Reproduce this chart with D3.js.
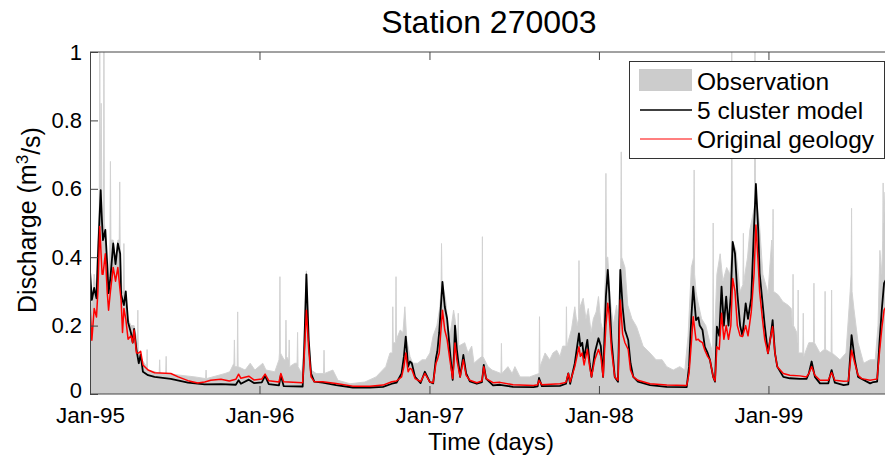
<!DOCTYPE html>
<html><head><meta charset="utf-8">
<script src="https://cdn.jsdelivr.net/npm/d3@7"></script>
<style>
html,body{margin:0;padding:0;background:#fff;}
svg{display:block;font-family:"Liberation Sans",Arial,sans-serif;}
</style></head>
<body><svg id="chart" width="885" height="459"></svg>
<script>
// ---- data: [days since 1 Jan 1995, discharge m3/s] ----
const startDate = "1995-01-01";
const observation = [[0,0.30],[4,0.25],[9,0.35],[13,0.30],[17,0.45],[20,0.55],[21,1.05],[22,0.6],[24,0.85],[26,0.5],[28,0.45],[29,0.5],[30,1.05],[31,0.5],[34,0.45],[39,0.32],[43,0.45],[44,0.68],[45,0.45],[50,0.45],[56,0.38],[60,0.45],[63,0.45],[64,0.62],[65,0.42],[69,0.3],[72,0.3],[73,0.44],[74,0.3],[82,0.22],[88,0.2],[95,0.2],[102,0.15],[103,0.245],[104,0.13],[112,0.1],[122,0.08],[123,0.13],[124,0.07],[140,0.065],[149,0.06],[150,0.1],[151,0.06],[163,0.06],[164,0.11],[165,0.06],[194,0.055],[226,0.05],[249,0.045],[250,0.07],[251,0.045],[291,0.06],[301,0.065],[310,0.09],[311,0.158],[312,0.08],[317,0.08],[318,0.24],[319,0.08],[334,0.07],[345,0.09],[355,0.07],[372,0.09],[379,0.07],[398,0.065],[407,0.1],[408,0.12],[409,0.343],[410,0.12],[418,0.1],[421,0.1],[422,0.216],[423,0.11],[428,0.1],[429,0.158],[430,0.08],[441,0.09],[446,0.09],[447,0.18],[448,0.08],[456,0.06],[461,0.15],[466,0.36],[471,0.16],[476,0.07],[487,0.06],[503,0.06],[504,0.128],[505,0.06],[523,0.07],[534,0.04],[560,0.03],[592,0.035],[616,0.05],[637,0.08],[646,0.12],[651,0.12],[652,0.255],[653,0.15],[658,0.15],[659,0.343],[660,0.16],[668,0.187],[674,0.18],[678,0.255],[682,0.16],[689,0.11],[695,0.09],[706,0.09],[715,0.1],[723,0.1],[732,0.12],[739,0.17],[747,0.2],[753,0.25],[756,0.3],[757,0.44],[758,0.33],[766,0.275],[771,0.2],[775,0.17],[783,0.245],[786,0.22],[792,0.15],[793,0.236],[794,0.14],[807,0.15],[814,0.12],[822,0.14],[827,0.09],[835,0.1],[844,0.11],[845,0.46],[846,0.11],[857,0.08],[866,0.07],[885,0.06],[886,0.148],[887,0.06],[900,0.08],[909,0.06],[915,0.08],[926,0.05],[947,0.05],[967,0.06],[968,0.226],[969,0.08],[980,0.12],[990,0.1],[997,0.12],[1005,0.128],[1012,0.11],[1018,0.14],[1025,0.14],[1026,0.255],[1027,0.14],[1037,0.19],[1044,0.255],[1049,0.2],[1052,0.22],[1053,0.39],[1054,0.25],[1062,0.28],[1068,0.22],[1073,0.25],[1079,0.18],[1084,0.22],[1090,0.24],[1095,0.285],[1100,0.21],[1105,0.18],[1110,0.35],[1111,0.645],[1112,0.4],[1115,0.4],[1120,0.28],[1127,0.2],[1134,0.26],[1139,0.2],[1143,0.4],[1144,0.708],[1145,0.4],[1152,0.37],[1158,0.26],[1167,0.22],[1177,0.197],[1191,0.14],[1206,0.12],[1219,0.1],[1232,0.1],[1242,0.08],[1256,0.07],[1270,0.08],[1281,0.07],[1288,0.17],[1295,0.37],[1300,0.4],[1301,0.655],[1302,0.35],[1305,0.3],[1309,0.27],[1317,0.22],[1326,0.2],[1335,0.15],[1341,0.12],[1342,0.5],[1343,0.1],[1350,0.35],[1357,0.41],[1363,0.33],[1371,0.37],[1378,0.35],[1381,0.4],[1382,1.05],[1383,0.45],[1391,0.42],[1400,0.3],[1406,0.32],[1407,0.47],[1408,0.33],[1416,0.4],[1421,0.48],[1427,0.52],[1431,0.55],[1432,1.05],[1433,0.6],[1442,0.49],[1449,0.35],[1455,0.32],[1460,0.294],[1468,0.45],[1470,0.4],[1471,0.54],[1472,0.3],[1482,0.29],[1492,0.27],[1503,0.26],[1510,0.25],[1513,0.2],[1514,0.35],[1515,0.2],[1522,0.18],[1524,0.15],[1525,0.304],[1526,0.12],[1535,0.12],[1536,0.236],[1537,0.11],[1548,0.15],[1558,0.15],[1559,0.324],[1560,0.15],[1572,0.12],[1579,0.128],[1582,0.13],[1583,0.3],[1584,0.13],[1596,0.12],[1597,0.304],[1598,0.12],[1615,0.1],[1628,0.12],[1637,0.3],[1639,0.35],[1640,0.543],[1641,0.3],[1645,0.25],[1654,0.15],[1666,0.09],[1680,0.1],[1691,0.1],[1697,0.2],[1701,0.42],[1705,0.35],[1707,0.45],[1708,0.617],[1709,0.5],[1712,0.59],[1718,0.5]];
const clusterModel = [[0,0.36],[4,0.275],[9,0.31],[14,0.28],[17,0.40],[23,0.596],[26,0.50],[28,0.45],[33,0.48],[37,0.38],[40,0.295],[44,0.34],[50,0.44],[55,0.38],[60,0.44],[65,0.41],[67,0.29],[73,0.26],[77,0.30],[82,0.21],[88,0.18],[92,0.15],[95,0.19],[100,0.13],[105,0.09],[109,0.115],[114,0.065],[125,0.055],[139,0.05],[174,0.044],[211,0.033],[247,0.028],[282,0.029],[314,0.027],[320,0.04],[325,0.03],[342,0.042],[353,0.032],[370,0.034],[377,0.053],[385,0.029],[407,0.025],[411,0.055],[417,0.023],[458,0.022],[461,0.12],[466,0.35],[471,0.158],[476,0.06],[483,0.036],[501,0.033],[530,0.026],[566,0.019],[603,0.019],[631,0.021],[650,0.03],[660,0.033],[671,0.06],[676,0.11],[680,0.168],[685,0.08],[689,0.095],[693,0.09],[700,0.05],[712,0.032],[721,0.065],[732,0.035],[739,0.031],[745,0.105],[748,0.125],[752,0.18],[759,0.328],[764,0.255],[769,0.22],[775,0.128],[781,0.041],[784,0.12],[786,0.2],[790,0.13],[797,0.05],[804,0.114],[810,0.06],[818,0.037],[833,0.03],[844,0.035],[848,0.085],[853,0.045],[868,0.025],[883,0.027],[911,0.021],[955,0.02],[964,0.022],[967,0.047],[973,0.023],[1012,0.024],[1025,0.03],[1030,0.06],[1034,0.03],[1044,0.09],[1053,0.177],[1056,0.14],[1060,0.15],[1064,0.105],[1071,0.158],[1076,0.09],[1080,0.05],[1087,0.12],[1095,0.163],[1100,0.14],[1105,0.05],[1111,0.285],[1115,0.363],[1118,0.3],[1123,0.158],[1130,0.05],[1137,0.036],[1142,0.363],[1147,0.255],[1152,0.187],[1159,0.158],[1164,0.09],[1170,0.05],[1180,0.036],[1206,0.026],[1242,0.021],[1285,0.02],[1290,0.08],[1295,0.226],[1299,0.314],[1305,0.216],[1310,0.224],[1313,0.2],[1319,0.187],[1324,0.138],[1330,0.12],[1335,0.1],[1342,0.05],[1346,0.036],[1350,0.197],[1355,0.17],[1360,0.314],[1365,0.2],[1370,0.285],[1375,0.2],[1380,0.29],[1384,0.445],[1389,0.41],[1394,0.294],[1400,0.2],[1405,0.17],[1412,0.265],[1417,0.22],[1424,0.28],[1430,0.489],[1434,0.614],[1439,0.48],[1442,0.353],[1448,0.27],[1453,0.2],[1460,0.119],[1466,0.17],[1470,0.216],[1475,0.12],[1480,0.08],[1493,0.05],[1507,0.046],[1529,0.044],[1543,0.044],[1548,0.06],[1554,0.095],[1561,0.05],[1572,0.031],[1590,0.031],[1593,0.05],[1597,0.07],[1604,0.033],[1623,0.026],[1633,0.028],[1637,0.11],[1640,0.172],[1647,0.1],[1654,0.05],[1662,0.044],[1680,0.031],[1687,0.035],[1695,0.036],[1700,0.148],[1705,0.245],[1710,0.324],[1716,0.34]];
const originalGeology = [[0,0.26],[4,0.157],[9,0.25],[14,0.225],[17,0.30],[21,0.49],[26,0.35],[28,0.35],[33,0.41],[37,0.30],[40,0.245],[44,0.30],[50,0.37],[55,0.33],[60,0.37],[65,0.30],[67,0.275],[70,0.18],[73,0.25],[77,0.22],[82,0.16],[88,0.17],[92,0.15],[95,0.187],[100,0.12],[105,0.12],[109,0.125],[114,0.085],[125,0.07],[139,0.062],[174,0.06],[190,0.05],[211,0.039],[232,0.032],[247,0.035],[260,0.04],[282,0.043],[300,0.038],[314,0.043],[320,0.058],[325,0.046],[342,0.052],[353,0.041],[370,0.044],[377,0.058],[385,0.039],[407,0.035],[411,0.06],[417,0.036],[458,0.033],[461,0.1],[466,0.245],[471,0.13],[476,0.05],[483,0.036],[501,0.036],[530,0.031],[566,0.023],[603,0.023],[631,0.026],[650,0.036],[660,0.038],[671,0.05],[676,0.08],[680,0.12],[685,0.065],[689,0.075],[693,0.072],[700,0.045],[712,0.036],[721,0.06],[732,0.035],[739,0.033],[745,0.09],[748,0.1],[752,0.12],[759,0.245],[764,0.187],[769,0.16],[775,0.1],[781,0.045],[784,0.1],[786,0.149],[790,0.1],[797,0.05],[804,0.1],[810,0.055],[818,0.04],[833,0.033],[844,0.038],[848,0.08],[853,0.045],[868,0.033],[883,0.034],[911,0.027],[955,0.025],[964,0.027],[967,0.04],[973,0.027],[1012,0.03],[1025,0.034],[1030,0.06],[1034,0.035],[1044,0.08],[1053,0.138],[1056,0.11],[1060,0.12],[1064,0.085],[1071,0.13],[1076,0.08],[1080,0.05],[1087,0.1],[1095,0.13],[1100,0.11],[1105,0.05],[1111,0.2],[1115,0.265],[1118,0.23],[1123,0.13],[1130,0.05],[1137,0.04],[1142,0.275],[1147,0.175],[1152,0.15],[1159,0.13],[1164,0.07],[1170,0.05],[1180,0.04],[1206,0.03],[1242,0.026],[1285,0.025],[1290,0.06],[1295,0.15],[1299,0.226],[1305,0.158],[1310,0.16],[1313,0.155],[1319,0.15],[1324,0.128],[1330,0.11],[1335,0.1],[1342,0.05],[1346,0.038],[1350,0.138],[1355,0.13],[1360,0.236],[1365,0.16],[1370,0.2],[1375,0.16],[1380,0.2],[1384,0.338],[1389,0.3],[1394,0.2],[1400,0.17],[1405,0.168],[1412,0.2],[1417,0.17],[1424,0.24],[1430,0.35],[1434,0.494],[1439,0.38],[1442,0.3],[1448,0.22],[1453,0.16],[1460,0.119],[1466,0.17],[1470,0.197],[1475,0.12],[1480,0.08],[1493,0.06],[1507,0.055],[1529,0.053],[1543,0.05],[1548,0.06],[1554,0.08],[1561,0.055],[1572,0.04],[1590,0.04],[1593,0.05],[1597,0.063],[1604,0.04],[1623,0.037],[1633,0.038],[1637,0.09],[1640,0.128],[1647,0.09],[1654,0.055],[1662,0.045],[1680,0.04],[1687,0.042],[1695,0.044],[1700,0.12],[1705,0.19],[1710,0.245],[1716,0.26]];
const xTickDates = ["1995-01-01","1996-01-01","1997-01-01","1998-01-01","1999-01-01"];
const yTicks = [0, 0.2, 0.4, 0.6, 0.8, 1];
const legendLabels = ["Observation", "5 cluster model", "Original geology"];
const titleText = "Station 270003";

// ---- drawing ----
const svg = d3.select("#chart");
const L = 90, R = 885, T = 52, B = 394;
const start = new Date(startDate + "T00:00:00Z");
const endDays = 1712;
const x = d3.scaleUtc().domain([start, d3.utcDay.offset(start, endDays)]).range([L, R]);
const y = d3.scaleLinear().domain([0, 1]).range([B, T]);
const toDate = d => d3.utcDay.offset(start, d);
const FONT = '"Liberation Sans", Arial, sans-serif';

svg.append("defs").append("clipPath").attr("id", "clip")
  .append("rect").attr("x", L).attr("y", T).attr("width", 900 - L).attr("height", B - T);

const plot = svg.append("g").attr("clip-path", "url(#clip)");

const area = d3.area().x(d => x(toDate(d[0]))).y0(y(0)).y1(d => y(d[1]));
plot.append("path").datum(observation).attr("d", area)
  .attr("fill", "#cccccc").attr("stroke", "#d2d2d2").attr("stroke-width", 1).attr("stroke-linejoin", "miter");

const line = d3.line().x(d => x(toDate(d[0]))).y(d => y(d[1]));
plot.append("path").datum(clusterModel).attr("d", line)
  .attr("fill", "none").attr("stroke", "#000").attr("stroke-width", 1.8).attr("stroke-linejoin", "round");
plot.append("path").datum(originalGeology).attr("d", line)
  .attr("fill", "none").attr("stroke", "#ff0000").attr("stroke-width", 1.5).attr("stroke-linejoin", "round");

// axes
const axisColor = "#444";
const tickDates = xTickDates.map(s => new Date(s + "T00:00:00Z"));
const fmt = d3.utcFormat("%b-%y");
const gx = svg.append("g").attr("transform", `translate(0,${B})`)
  .call(d3.axisBottom(x).tickValues(tickDates).tickFormat(fmt).tickSizeInner(-8).tickSizeOuter(0).tickPadding(13));
const gxt = svg.append("g").attr("transform", `translate(0,${T})`)
  .call(d3.axisTop(x).tickValues(tickDates).tickFormat("").tickSizeInner(-8).tickSizeOuter(0));
const gy = svg.append("g").attr("transform", `translate(${L},0)`)
  .call(d3.axisLeft(y).tickValues(yTicks).tickFormat(d3.format("")).tickSizeInner(-8).tickSizeOuter(0).tickPadding(8));
[gx, gxt, gy].forEach(g => {
  g.selectAll(".domain").attr("stroke", axisColor);
  g.selectAll(".tick line").attr("stroke", axisColor);
  g.selectAll("text").attr("fill", "#000").style("font-size", "22px").style("font-family", FONT);
});
gx.selectAll("text").style("font-size", "22.5px");
gy.selectAll(".tick").filter(d => d === 0).select("text").attr("dy", "0.18em");
gxt.select(".domain").attr("d", `M${L},0H900`);
gx.select(".domain").attr("d", `M${L},0H900`);

// title
svg.append("text").attr("x", 489).attr("y", 33).attr("text-anchor", "middle")
  .style("font-size", "32px").text(titleText);
// x label
svg.append("text").attr("x", 491).attr("y", 450).attr("text-anchor", "middle")
  .style("font-size", "24px").text("Time (days)");
// y label
const yl = svg.append("text").attr("transform", `translate(36,${(T + B) / 2 - 3}) rotate(-90)`)
  .attr("text-anchor", "middle").style("font-size", "25px");
yl.append("tspan").text("Discharge (m");
yl.append("tspan").attr("dy", "-0.45em").style("font-size", "17px").text("3");
yl.append("tspan").attr("dy", "0.45em").text("/s)");

// legend
const lg = svg.append("g");
lg.append("rect").attr("x", 629.5).attr("y", 61.5).attr("width", 255).attr("height", 97)
  .attr("fill", "#fff").attr("stroke", "#333").attr("stroke-width", 1);
const rows = [81, 110, 139];
lg.append("rect").attr("x", 639).attr("y", 69).attr("width", 53).attr("height", 22).attr("fill", "#cccccc");
lg.append("line").attr("x1", 640).attr("x2", 692).attr("y1", rows[1]).attr("y2", rows[1]).attr("stroke", "#000").attr("stroke-width", 1.5);
lg.append("line").attr("x1", 640).attr("x2", 692).attr("y1", rows[2]).attr("y2", rows[2]).attr("stroke", "#ff0000").attr("stroke-width", 1.2);
legendLabels.forEach((t, i) => {
  lg.append("text").attr("x", 697).attr("y", rows[i]).attr("dy", "0.36em")
    .style("font-size", "24.5px").text(t);
});
</script>
</body></html>
